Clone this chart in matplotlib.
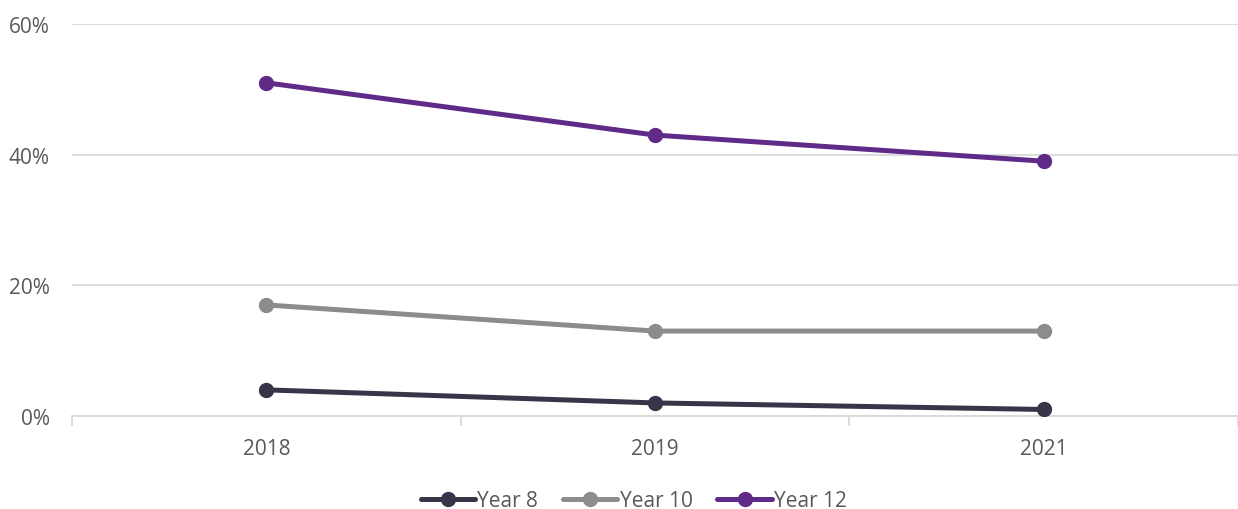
import matplotlib.pyplot as plt
from matplotlib.ticker import FuncFormatter, FixedLocator

years = ['2018', '2019', '2021']
year8 = [4, 2, 1]
year10 = [17, 13, 13]
year12 = [51, 43, 39]

series = [
    ('Year 8', year8, '#373548'),
    ('Year 10', year10, '#8c8c8c'),
    ('Year 12', year12, '#5f2a88'),
]

plt.rcParams['font.family'] = ['Open Sans', 'DejaVu Sans']
text_color = '#595959'
grid_color = '#d9d9d9'

fig = plt.figure(figsize=(12.38, 5.10), dpi=100)
ax = fig.add_axes([72 / 1238, 1 - 417 / 510, 1 - 72 / 1238, (417 - 25) / 510])

x = list(range(len(years)))
for name, vals, color in series:
    ax.plot(x, vals, color=color, lw=3.6, marker='o', markersize=10,
            label=name, solid_capstyle='round', zorder=3)

ax.set_xlim(-0.5, len(years) - 0.5)
ax.set_ylim(0, 60)
ax.set_yticks([0, 20, 40, 60])
ax.yaxis.set_major_formatter(FuncFormatter(lambda v, p: '%d%%' % v))
ax.grid(axis='y', color=grid_color, lw=1.3)
ax.set_axisbelow(True)

ax.set_xticks(x)
ax.set_xticklabels(years)
ax.xaxis.set_minor_locator(FixedLocator([-0.5 + i for i in range(len(years) + 1)]))
ax.tick_params(axis='x', which='major', length=0, pad=16, labelsize=15, colors=text_color)
ax.tick_params(axis='x', which='minor', length=7, width=1.3, color=grid_color, direction='out')
ax.tick_params(axis='y', length=0, pad=16, labelsize=15, colors=text_color)

for s in ['top', 'right', 'left']:
    ax.spines[s].set_visible(False)
ax.spines['bottom'].set_color(grid_color)
ax.spines['bottom'].set_linewidth(1.3)

leg = fig.legend(loc='center', bbox_to_anchor=(0.512, 0.016), ncol=3, frameon=False,
                 fontsize=15, handlelength=2.6, handletextpad=0.1, columnspacing=1.2)
for t in leg.get_texts():
    t.set_color(text_color)

fig.savefig('out.png', dpi=100)
